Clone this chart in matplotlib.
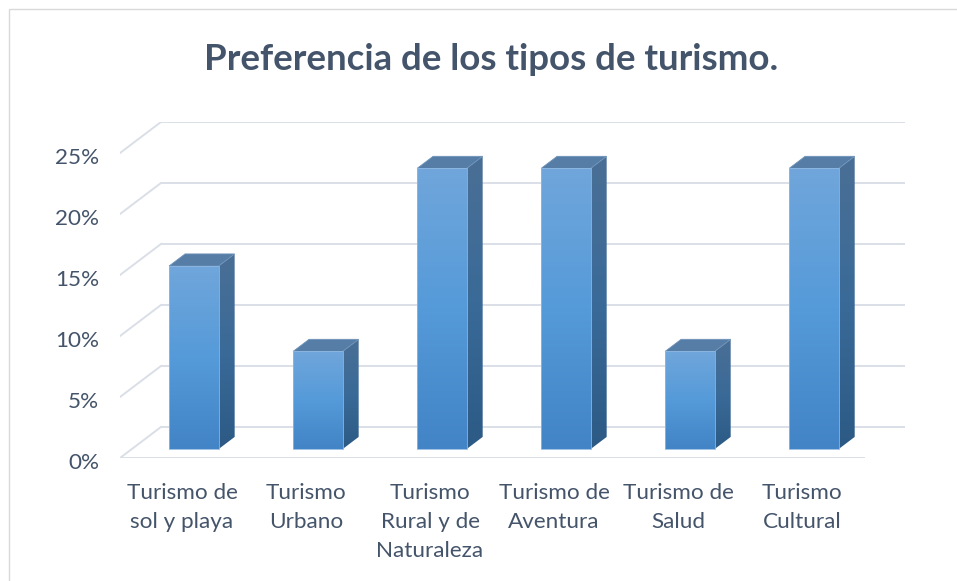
import numpy as np
import matplotlib
matplotlib.use("Agg")
import matplotlib.pyplot as plt
from matplotlib.patches import Polygon, Rectangle
from matplotlib.colors import LinearSegmentedColormap
from matplotlib.transforms import ScaledTranslation

# ---- data ----
categories = ["Turismo de\nsol y playa", "Turismo\nUrbano", "Turismo\nRural y de\nNaturaleza",
              "Turismo de\nAventura", "Turismo de\nSalud", "Turismo\nCultural"]
values = [15, 8, 23, 23, 8, 23]
yticks = [0, 5, 10, 15, 20, 25]
ytick_labels = ["0%", "5%", "10%", "15%", "20%", "25%"]
title = "Preferencia de los tipos de turismo."

# ---- style ----
W, H = 957, 581
text_color = "#44546A"
grid_color = "#DADFE7"
font = "Lato"

fig = plt.figure(figsize=(W / 100, H / 100), dpi=100)
fig.patch.set_facecolor("white")

# chart border (light)
fig.add_artist(Rectangle((9 / W, -0.05), 1.2, (H - 9) / H + 0.05, transform=fig.transFigure,
                         fill=False, edgecolor="#D9D9D9", lw=1.0))

# axes placement (pixels)
px_left, px_right = 120, 905
px_bottom, px_top = 458, 122
ax = fig.add_axes([px_left / W, (H - px_bottom) / H, (px_right - px_left) / W, (px_bottom - px_top) / H])

n = len(values)
cat_px = (865 - 120) / n            # pixels per category
ypx = (458 - 153) / 25.0            # pixels per percent
Dx = 41 / cat_px                    # full depth in data-x
Dy = 31 / ypx                       # full depth in data-y
ax.set_xlim(-0.5, n - 0.5 + Dx)
ax.set_ylim(0, yticks[-1] + Dy)
ax.patch.set_alpha(0)
for s in ax.spines.values():
    s.set_visible(False)

# gridlines: back wall + left diagonals + front floor line
for t in yticks:
    ax.plot([-0.5 + Dx, n - 0.5 + Dx], [t + Dy, t + Dy], color=grid_color, lw=1.4, zorder=1,
            solid_capstyle="butt")
    ax.plot([-0.5, -0.5 + Dx], [t, t + Dy], color=grid_color, lw=1.4, zorder=1)
ax.plot([-0.5, n - 0.5], [0, 0], color=grid_color, lw=1.4, zorder=1)

# bars
bw = 0.40
d0, d1 = 0.29, 0.68
front_cmap = LinearSegmentedColormap.from_list("f", ["#4284C6", "#559AD9", "#70A6DB"])
side_cmap = LinearSegmentedColormap.from_list("s", ["#2C5A85", "#3A6A98", "#4A6F95"])
grad = np.linspace(0, 1, 256).reshape(-1, 1)
for i, v in enumerate(values):
    ox, oy = d0 * Dx, d0 * Dy
    ex, ey = (d1 - d0) * Dx, (d1 - d0) * Dy
    x0 = i - bw / 2 + ox
    x1 = i + bw / 2 + ox
    yb = oy
    yt = oy + v
    # side face
    side = Polygon([(x1, yb), (x1 + ex, yb + ey), (x1 + ex, yt + ey), (x1, yt)], closed=True,
                   facecolor="none", edgecolor="none", zorder=3)
    ax.add_patch(side)
    im = ax.imshow(grad, cmap=side_cmap, aspect="auto", origin="lower",
                   extent=[x1, x1 + ex, yb, yt + ey], zorder=3, interpolation="bilinear")
    im.set_clip_path(side)
    # top face
    ax.add_patch(Polygon([(x0, yt), (x1, yt), (x1 + ex, yt + ey), (x0 + ex, yt + ey)], closed=True,
                         facecolor="#567DA6", edgecolor="#6E93BA", lw=0.6, zorder=4))
    # front face
    ax.imshow(grad, cmap=front_cmap, aspect="auto", origin="lower",
              extent=[x0, x1, yb, yt], zorder=5, interpolation="bilinear")
    ax.add_patch(Rectangle((x0, yb), x1 - x0, v, facecolor="none", edgecolor="#8FB8E2", lw=0.6, zorder=6))

ax.set_xlim(-0.5, n - 0.5 + Dx)
ax.set_ylim(0, yticks[-1] + Dy)

ax.set_yticks(yticks)
ax.set_yticklabels(ytick_labels)
ax.set_xticks(range(n))
ax.set_xticklabels(categories, linespacing=1.56)
ax.tick_params(axis="both", length=0, colors=text_color, labelsize=16.2)
ax.tick_params(axis="y", pad=15)
ax.tick_params(axis="x", pad=18)
for lab in ax.get_xticklabels() + ax.get_yticklabels():
    lab.set_fontfamily(font)
    lab.set_color(text_color)
for lab in ax.get_xticklabels():
    lab.set_verticalalignment("top")
for lab in ax.get_yticklabels():
    lab.set_transform(lab.get_transform() + ScaledTranslation(0, -3 / 100, fig.dpi_scale_trans))

fig.text(491 / W, 1 - 59 / H, title, ha="center", va="center", fontsize=26.4, fontweight="bold",
         color=text_color, fontfamily=font)

fig.savefig("out.png", dpi=100)
